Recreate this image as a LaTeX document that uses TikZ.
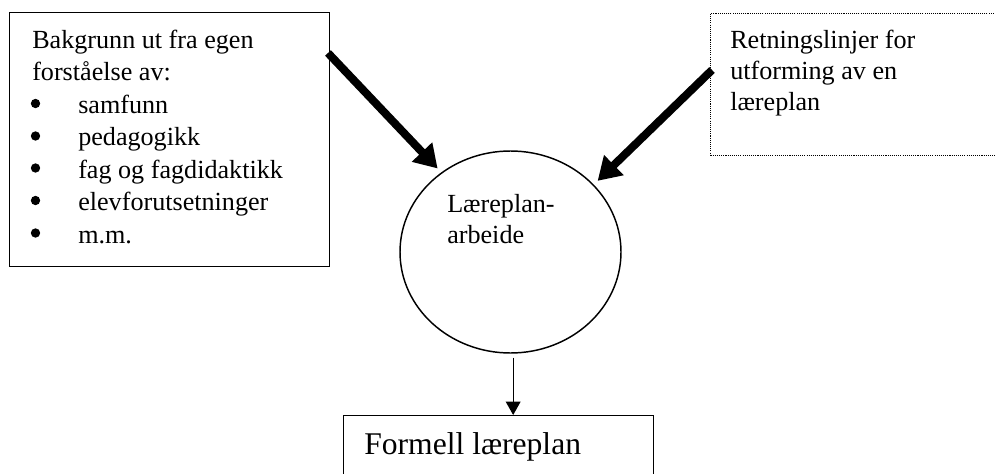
\documentclass[tikz,border=0pt]{standalone}
\usepackage{fontspec}
\setmainfont{Liberation Serif}
\usetikzlibrary{arrows.meta,shapes.geometric}
\begin{document}
\begin{tikzpicture}[x=0.75pt,y=-0.75pt,
  box/.style={draw, line width=1.1pt, rectangle, inner sep=0pt, anchor=north west},
  txt/.style={anchor=base west, inner sep=0pt, font=\fontsize{19.6pt}{24pt}\selectfont},
  dot/.style={circle, fill, inner sep=0pt, minimum size=7pt},
  fat/.style={line width=6pt, -{Triangle[length=17pt,width=20pt]}, shorten >=4pt},
  slim/.style={line width=0.9pt, -{Triangle[length=10pt,width=11pt]}}
]
\useasboundingbox (0,0) rectangle (995,474);

% boxes and the central ellipse
\node[box, minimum width=240pt, minimum height=190.5pt] (bg) at (9,12) {};
\node[box, line width=0.75pt, dash pattern=on 0.8pt off 0.8pt,
      minimum width=225pt, minimum height=106.5pt] (rl) at (710,13) {};
\node[draw, ellipse, line width=1.1pt, inner sep=0pt,
      minimum width=165.75pt, minimum height=151.5pt] (circ) at (510.5,252) {};
\node[box, minimum width=232.5pt, minimum height=60pt] (fl) at (343,415) {};

% left box text
\node[txt] (t1) at (32,49) {Bakgrunn ut fra egen};
\node[txt] (t2) at (32,81) {forståelse av:};
\node[dot] (b1) at (35.5,103.5) {};
\node[dot] (b2) at (35.5,136) {};
\node[dot] (b3) at (35.5,168) {};
\node[dot] (b4) at (35.5,200.5) {};
\node[dot] (b5) at (35.5,233) {};
\node[txt] (i1) at (78,113.5) {samfunn};
\node[txt] (i2) at (78,146) {pedagogikk};
\node[txt] (i3) at (78,178) {fag og fagdidaktikk};
\node[txt] (i4) at (78,210.5) {elevforutsetninger};
\node[txt] (i5) at (78,243) {m.m.};

% right box text
\node[txt] (r1) at (730,49) {Retningslinjer for};
\node[txt] (r2) at (730,80) {utforming av en};
\node[txt] (r3) at (730,111) {læreplan};

% ellipse text
\node[txt] (c1) at (447,212) {Læreplan-};
\node[txt] (c2) at (447,243) {arbeide};

% bottom box text
\node[txt, font=\fontsize{23.7pt}{28pt}\selectfont] (f1) at (364,454) {Formell læreplan};

% connectors
\coordinate (s1) at (328,53);
\coordinate (s2) at (712,70);
\draw[fat] (s1) -- (circ.131);
\draw[fat] (s2) -- (circ.39);
\draw[slim, shorten <=3pt] ([xshift=2pt]circ.south) -- ([xshift=2pt]circ.south |- fl.north);
\end{tikzpicture}
\end{document}
